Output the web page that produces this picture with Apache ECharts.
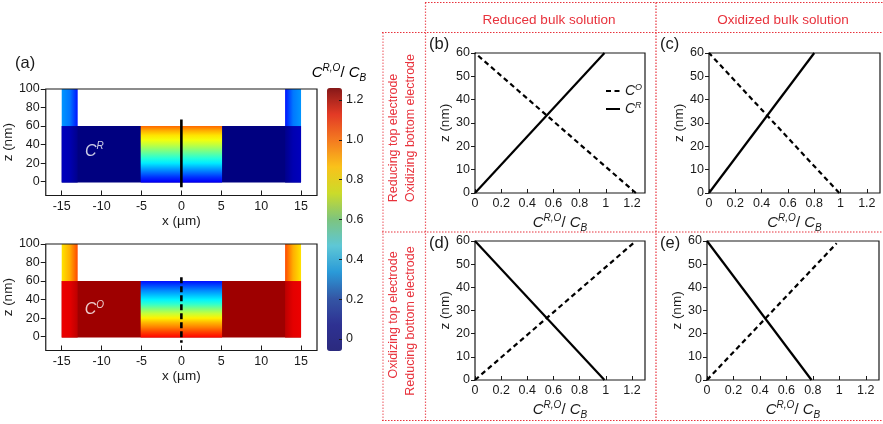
<!DOCTYPE html>
<html>
<head>
<meta charset="utf-8">
<title>Concentration profiles</title>
<script src="https://cdn.jsdelivr.net/npm/echarts@6.0.0/dist/echarts.min.js"></script>
<style>
  html, body { margin: 0; padding: 0; background: #fff; }
  #chart { width: 883px; height: 424px; }
</style>
</head>
<body>
<div id="chart"></div>
<script>
// ---------- tick labels ----------
const mapXTicks = [-15, -10, -5, 0, 5, 10, 15];        // x (µm)
const mapZTicks = [0, 20, 40, 60, 80, 100];            // z (nm)
const scaleTicks = [0, 0.2, 0.4, 0.6, 0.8, 1.0, 1.2];  // colour scale, C/C_B
const concTicks = [0, 0.2, 0.4, 0.6, 0.8, 1, 1.2];     // profile abscissa

// ---------- cell geometry (x in µm, z in nm) ----------
const cellX = [-15, 15];
const cellZ = [-1, 60];
const wingZ = [60, 100];
const channelX = [-5.1, 5.1];
const wingX = [-15, -14, -13];

// ---------- concentration maps, C/C_B ----------
const bulkR = 0.0;
const bulkO = 1.22;
const wingLowR = [0.05, 0.04, 0.01];
const wingLowO = [1.12, 1.13, 1.18];
const wingTopR = [0.30, 0.26, 0.13];
const wingTopO = [0.80, 0.87, 1.00];
const channelZ = [60, 55, 50, 45, 40, 35, 30, 25, 20, 15, 10, 5, 0];
const channelR = [0.96, 0.87, 0.80, 0.75, 0.69, 0.62, 0.55, 0.48, 0.41, 0.33, 0.25, 0.17, 0.10];
const channelO = [0.12, 0.20, 0.28, 0.35, 0.42, 0.50, 0.60, 0.69, 0.78, 0.86, 0.93, 1.01, 1.08];

// vertical cut through the channel centre, and map tags
const cutR = [[0, 67], [0, -6]];
const cutO = [[0, 64], [0, -6.5]];
const tagR = [[-10.9, 33]];
const tagO = [[-10.9, 29]];

// ---------- profiles along the cut: [C/C_B, z (nm)] ----------
const profB_CO = [[1.23, 0], [0.0, 60]];
const profB_CR = [[0.0, 0], [0.99, 60]];
const profC_CO = [[0.99, 0], [0.0, 60]];
const profC_CR = [[0.0, 0], [0.80, 60]];
const profD_CO = [[0.0, 0], [1.21, 59]];
const profD_CR = [[0.99, 0], [0.0, 60]];
const profE_CO = [[0.0, 0], [0.98, 59]];
const profE_CR = [[0.79, 0], [0.0, 60]];

// ---------- styling ----------
const FONT = "'Liberation Sans', Arial, sans-serif";
const INK = '#1a1a1a';
const RED = '#e8323c';
const VMIN = -0.06, VMAX = 1.26;
const JET = ['#000038', '#0000ff', '#007fff', '#00ffff', '#7fff7f', '#ffff00', '#ff7f00', '#ff0000', '#7f0000'];
const BAR = ['#2b2a7e', '#2e3192', '#3456a5', '#2a9ad8', '#5ec7d6', '#7dc47e', '#cbdb2a', '#f9c21a', '#f47b20', '#e33a25', '#861818'];

function jet(v) {
  const t = Math.min(1, Math.max(0, (v - VMIN) / (VMAX - VMIN)));
  return echarts.color.lerp(t, JET);
}

const RICH = {
  c: { fontFamily: FONT, fontStyle: 'italic', fontSize: 15, lineHeight: 20, color: INK },
  n: { fontFamily: FONT, fontSize: 15, lineHeight: 20, color: INK },
  s: { fontFamily: FONT, fontStyle: 'italic', fontSize: 10, lineHeight: 10, verticalAlign: 'top', color: INK },
  b: { fontFamily: FONT, fontStyle: 'italic', fontSize: 10, lineHeight: 12, verticalAlign: 'bottom', color: INK }
};
const CONC_NAME = '{c|C}{s|R,O}{n|/ }{c|C}{b|B}';

function mapBlocks(bulk, wingLow, wingTop, channel) {
  const mx = wingX.map(x => -x).reverse();
  const rev = a => a.slice().reverse();
  const last = wingX.length - 1;
  return [
    { x: cellX, z: cellZ, flat: bulk },
    { x: [wingX[0], wingX[last]], z: cellZ, xs: wingX, vals: wingLow },
    { x: [mx[0], mx[last]], z: cellZ, xs: mx, vals: rev(wingLow) },
    { x: [wingX[0], wingX[last]], z: wingZ, xs: wingX, vals: wingTop },
    { x: [mx[0], mx[last]], z: wingZ, xs: mx, vals: rev(wingTop) },
    { x: channelX, z: cellZ, zs: channelZ, vals: channel }
  ];
}

function heatSeries(blocks, idx) {
  return {
    type: 'custom', xAxisIndex: idx, yAxisIndex: idx, z: -1, silent: true,
    data: blocks.map((b, i) => [b.x[0], b.x[1], b.z[0], b.z[1], i]),
    encode: { x: [0, 1], y: [2, 3] },
    renderItem(params, api) {
      const b = blocks[api.value(4)];
      const x0 = api.value(0), x1 = api.value(1), z0 = api.value(2), z1 = api.value(3);
      const tl = api.coord([x0, z1]);
      const br = api.coord([x1, z0]);
      let fill;
      if (b.flat != null) {
        fill = jet(b.flat);
      } else if (b.xs) {
        fill = new echarts.graphic.LinearGradient(0, 0, 1, 0,
          b.xs.map((x, k) => ({ offset: (x - x0) / (x1 - x0), color: jet(b.vals[k]) })));
      } else {
        fill = new echarts.graphic.LinearGradient(0, 0, 0, 1,
          b.zs.map((z, k) => ({ offset: (z1 - z) / (z1 - z0), color: jet(b.vals[k]) })));
      }
      return {
        type: 'rect',
        shape: { x: tl[0], y: tl[1], width: br[0] - tl[0], height: br[1] - tl[1] },
        style: { fill: fill }
      };
    }
  };
}

function tagSeries(data, idx, sup) {
  return {
    type: 'scatter', xAxisIndex: idx, yAxisIndex: idx, data: data, symbolSize: 1,
    itemStyle: { color: 'transparent' }, silent: true, z: 4,
    label: {
      show: true, position: 'inside', formatter: '{c|C}{s|' + sup + '}',
      rich: {
        c: { fontFamily: FONT, fontStyle: 'italic', fontSize: 16, lineHeight: 20, color: '#fff' },
        s: { fontFamily: FONT, fontStyle: 'italic', fontSize: 10, lineHeight: 10, verticalAlign: 'top', color: '#fff' }
      }
    }
  };
}

function lineSeries(name, data, idx, dashed, width) {
  return {
    type: 'line', name: name, data: data, xAxisIndex: idx, yAxisIndex: idx,
    symbol: 'none', silent: true, z: 3,
    itemStyle: { color: '#000' },
    lineStyle: { color: '#000', width: width, type: dashed ? (width > 2.4 ? [6, 3] : [5, 3.5]) : 'solid' }
  };
}

// ---------- grids ----------
const grids = [
  { left: 42, top: 89, width: 275, height: 106.5 },   // map C^R
  { left: 42, top: 244, width: 275, height: 106.5 },  // map C^O
  { left: 327, top: 88, width: 15, height: 263 },     // colour scale
  { left: 475, top: 53, width: 170, height: 140 },    // (b)
  { left: 709, top: 53, width: 171, height: 140 },    // (c)
  { left: 475, top: 241, width: 170, height: 139 },   // (d)
  { left: 707, top: 241, width: 172, height: 139 }    // (e)
].map((g, i) => Object.assign(g, i === 2 ? { show: false } : { show: true, borderColor: INK, borderWidth: 1.2, backgroundColor: 'transparent' }));

const tickLabel = { fontFamily: FONT, fontSize: 12.5, color: INK };
const axisNameStyle = { fontFamily: FONT, fontSize: 13.5, color: INK };
const hiddenLine = { show: false, onZero: false };

function mapX(i) {
  return {
    gridIndex: i, type: 'value', min: -17, max: 17,
    axisLine: hiddenLine, splitLine: { show: false },
    axisTick: { show: true, inside: true, length: 5, customValues: mapXTicks, lineStyle: { color: INK } },
    axisLabel: Object.assign({ customValues: mapXTicks, margin: 5 }, tickLabel),
    name: 'x (µm)', nameLocation: 'middle', nameGap: 14, nameTextStyle: axisNameStyle
  };
}
function mapY(i) {
  return {
    gridIndex: i, type: 'value', min: -15, max: 100,
    axisLine: hiddenLine, splitLine: { show: false },
    axisTick: { show: true, inside: false, length: 5, customValues: mapZTicks, lineStyle: { color: INK } },
    axisLabel: Object.assign({ customValues: mapZTicks, margin: 6 }, tickLabel),
    name: 'z (nm)', nameLocation: 'middle', nameGap: 17, nameTextStyle: axisNameStyle
  };
}
function profX(i) {
  return {
    gridIndex: i, type: 'value', min: 0, max: 1.3,
    axisLine: hiddenLine, splitLine: { show: false },
    axisTick: { show: true, inside: true, length: 4, customValues: concTicks, lineStyle: { color: INK } },
    axisLabel: Object.assign({ customValues: concTicks, margin: 4 }, tickLabel),
    name: CONC_NAME, nameLocation: 'middle', nameGap: 20,
    nameTextStyle: { rich: RICH }
  };
}
function profY(i) {
  return {
    gridIndex: i, type: 'value', min: 0, max: 60, interval: 10,
    axisLine: hiddenLine, splitLine: { show: false },
    axisTick: { show: true, inside: false, length: 4, lineStyle: { color: INK } },
    axisLabel: Object.assign({ margin: 5 }, tickLabel),
    name: 'z (nm)', nameLocation: 'middle', nameGap: 21, nameTextStyle: axisNameStyle
  };
}

const xAxes = [
  mapX(0), mapX(1),
  { gridIndex: 2, type: 'value', min: 0, max: 1, show: false },
  profX(3), profX(4), profX(5), profX(6)
];
const yAxes = [
  mapY(0), mapY(1),
  {
    gridIndex: 2, type: 'value', min: VMIN, max: VMAX, position: 'right', z: 10,
    axisLine: hiddenLine, splitLine: { show: false },
    axisTick: { show: true, inside: true, length: 3, customValues: scaleTicks, lineStyle: { color: INK } },
    axisLabel: Object.assign({ customValues: scaleTicks, margin: 4, formatter: v => (v === 0 ? '0' : v.toFixed(1)) }, tickLabel)
  },
  profY(3), profY(4), profY(5), profY(6)
];

const series = [
  heatSeries(mapBlocks(bulkR, wingLowR, wingTopR, channelR), 0),
  heatSeries(mapBlocks(bulkO, wingLowO, wingTopO, channelO), 1),
  lineSeries('cutR', cutR, 0, false, 2.6),
  lineSeries('cutO', cutO, 1, true, 2.6),
  tagSeries(tagR, 0, 'R'),
  tagSeries(tagO, 1, 'O'),
  lineSeries('CO', profB_CO, 3, true, 2.2),
  lineSeries('CR', profB_CR, 3, false, 2.2),
  lineSeries('CO', profC_CO, 4, true, 2.2),
  lineSeries('CR', profC_CR, 4, false, 2.2),
  lineSeries('CO', profD_CO, 5, true, 2.2),
  lineSeries('CR', profD_CR, 5, false, 2.2),
  lineSeries('CO', profE_CO, 6, true, 2.2),
  lineSeries('CR', profE_CR, 6, false, 2.2)
];

// ---------- annotations ----------
function dotted(x1, y1, x2, y2, opacity) {
  return {
    type: 'line', silent: true, z: 1,
    shape: { x1: x1, y1: y1, x2: x2, y2: y2 },
    style: { stroke: RED, lineWidth: 1.2, lineDash: [1.5, 1.5], opacity: opacity }
  };
}
function label(str, x, y) {
  return {
    type: 'text', x: x, y: y, silent: true, z: 5,
    style: { text: str, fontFamily: FONT, fontSize: 16.5, fill: INK, align: 'left', verticalAlign: 'middle' }
  };
}
function header(str, x, y) {
  return {
    type: 'text', x: x, y: y, silent: true,
    style: { text: str, fontFamily: FONT, fontSize: 13.5, fill: RED, align: 'center', verticalAlign: 'middle' }
  };
}
function vtext(str, x, y) {
  return {
    type: 'text', x: x, y: y, rotation: Math.PI / 2, silent: true, z: 5,
    style: { text: str, fontFamily: FONT, fontSize: 12.5, fill: RED, align: 'center', verticalAlign: 'middle' }
  };
}

const graphic = [
  dotted(425, 2.5, 883, 2.5, 1),
  dotted(425.5, 2.5, 425.5, 421, 0.8),
  dotted(656, 2.5, 656, 421, 1),
  dotted(382, 32.5, 883, 32.5, 1),
  dotted(383, 32.5, 383, 421, 0.7),
  dotted(382, 232, 883, 232, 1),
  dotted(382, 420.5, 883, 420.5, 1),
  header('Reduced bulk solution', 549, 20.5),
  header('Oxidized bulk solution', 783, 20.5),
  vtext('Reducing top electrode', 394, 138),
  vtext('Oxidizing bottom electrode', 411, 128),
  vtext('Oxidizing top electrode', 394, 315),
  vtext('Reducing bottom electrode', 411, 321),
  label('(a)', 15, 63),
  label('(b)', 429, 44),
  label('(c)', 660, 44),
  label('(d)', 429, 243),
  label('(e)', 660, 243),
  {
    type: 'text', x: 339, y: 73, silent: true,
    style: { text: CONC_NAME, rich: RICH, align: 'center', verticalAlign: 'middle' }
  }
];

const chart = echarts.init(document.getElementById('chart'), null, { renderer: 'canvas' });
chart.setOption({
  animation: false,
  backgroundColor: '#fff',
  textStyle: { fontFamily: FONT },
  grid: grids,
  xAxis: xAxes,
  yAxis: yAxes,
  visualMap: {
    type: 'continuous', min: VMIN, max: VMAX, seriesIndex: [], show: true,
    calculable: false, hoverLink: false, left: 327, top: 88, padding: 0,
    itemWidth: 15, itemHeight: 263, inRange: { color: BAR }
  },
  legend: {
    data: ['CO', 'CR'], left: 600, top: 78, orient: 'vertical',
    itemWidth: 14, itemHeight: 10, itemGap: 3, selectedMode: false,
    itemStyle: { opacity: 0 },
    formatter: n => (n === 'CO' ? '{c|C}{s|O}' : '{c|C}{s|R}'),
    textStyle: {
      rich: {
        c: { fontFamily: FONT, fontStyle: 'italic', fontSize: 14, lineHeight: 16, color: INK },
        s: { fontFamily: FONT, fontStyle: 'italic', fontSize: 9, lineHeight: 9, verticalAlign: 'top', color: INK }
      }
    }
  },
  graphic: graphic,
  series: series
});
</script>
</body>
</html>
